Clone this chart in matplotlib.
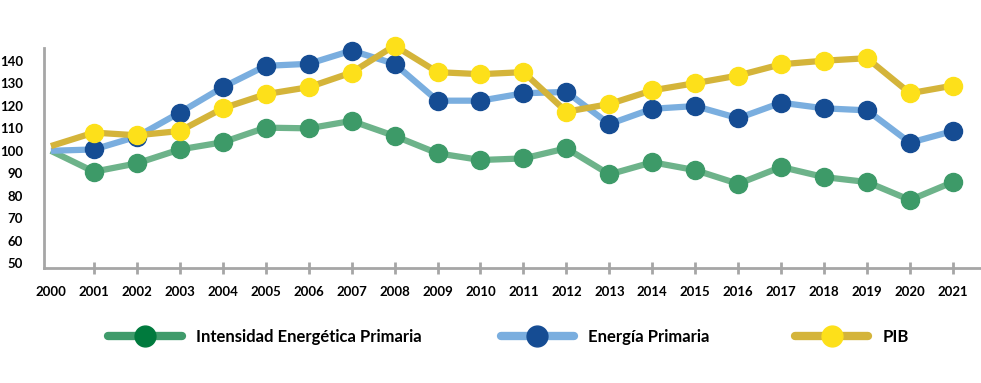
import matplotlib.pyplot as plt
from matplotlib.lines import Line2D

plt.rcParams['font.family'] = ['Lato', 'DejaVu Sans']

# Data (index, 2000 = 100)
years = list(range(2000, 2022))
intensidad = [100.0, 90.7, 94.4, 100.6, 103.8, 110.3, 110.0, 113.3, 106.6, 98.9, 95.9,
              96.6, 101.1, 89.5, 94.9, 91.4, 85.3, 92.8, 88.3, 86.1, 78.1, 86.1]
energia = [100.0, 100.6, 106.3, 117.0, 128.3, 137.8, 138.7, 144.6, 138.7, 122.3, 122.3,
           125.6, 126.2, 111.9, 118.7, 119.9, 114.5, 121.4, 118.9, 118.0, 103.6, 108.8]
pib = [102.1, 108.1, 106.9, 108.8, 118.9, 125.2, 128.3, 134.8, 146.8, 135.0, 134.1,
       135.0, 117.4, 120.8, 126.9, 130.1, 133.5, 138.5, 140.1, 141.2, 125.6, 129.0]
yticks = [50, 60, 70, 80, 90, 100, 110, 120, 130, 140]

series = [
    ('Intensidad Energética Primaria', intensidad, '#6db38a', '#3d9a68', '#3f9b6b', '#007a3d'),
    ('Energía Primaria', energia, '#7aaedf', '#154c93', '#7aaedf', '#154c93'),
    ('PIB', pib, '#d4b43a', '#fde01a', '#d4b43a', '#fde01a'),
]

fig = plt.figure(figsize=(9.81, 3.83), dpi=100)
ax = fig.add_axes([0.0449, 0.300, 0.955, 0.575])

for i, (name, vals, lc, mc, _, _) in enumerate(series):
    ax.plot(years, vals, color=lc, lw=4.5, solid_capstyle='butt', zorder=2 + i,
            marker='o', markersize=13, markerfacecolor=mc, markeredgecolor=mc,
            markevery=list(range(1, len(years))), clip_on=False)

ax.set_xlim(1999.84, 2021.65)
ax.set_ylim(47.8, 145.8)
ax.set_xticks(years)
ax.set_yticks(yticks)
ax.tick_params(axis='x', direction='inout', length=8, width=2, color='#a6a6a6',
               labelsize=9.5, pad=9)
ax.tick_params(axis='y', length=0, labelsize=9.5, pad=15)
ax.xaxis.get_major_ticks()[0].tick1line.set_visible(False)
for lab in ax.get_xticklabels() + ax.get_yticklabels():
    lab.set_fontweight('bold')
for s in ['top', 'right']:
    ax.spines[s].set_visible(False)
for s in ['left', 'bottom']:
    ax.spines[s].set_color('#a6a6a6')
    ax.spines[s].set_linewidth(2)

# legend entries placed one by one
anchors = [0.095, 0.495, 0.795]
for (name, vals, lc, mc, hlc, hmc), xa in zip(series, anchors):
    h = Line2D([0], [0], color=hlc, lw=6, solid_capstyle='round', marker='o',
               markersize=15, markerfacecolor=hmc, markeredgecolor=hmc)
    leg = fig.legend([h], [name], loc='center left', bbox_to_anchor=(xa, 0.12),
                     frameon=False, handlelength=4.4, handletextpad=0.85,
                     prop={'size': 12, 'weight': 'bold'})

fig.savefig('out.png', dpi=100)
